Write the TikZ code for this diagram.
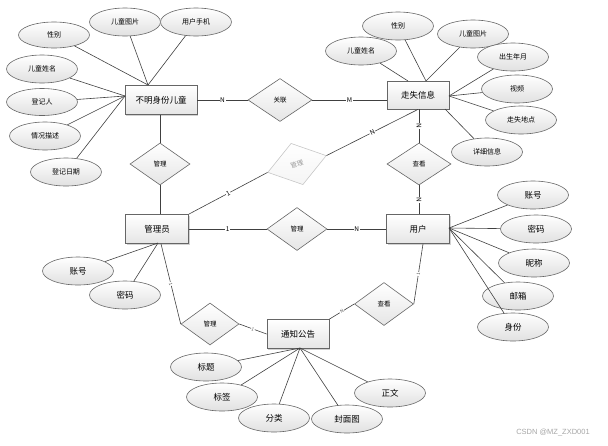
\documentclass[tikz,border=0pt]{standalone}
\usepackage{fontspec}
\setmainfont{Noto Sans CJK SC}
\newfontfamily\wmfont{Liberation Sans}
\usetikzlibrary{shapes.geometric,shadows}
\begin{document}
\begin{tikzpicture}[x=1pt,y=-1pt,
  ent/.style={rectangle, draw=black!60, line width=0.8pt, top color=white, bottom color=black!10,
    minimum width=62pt, minimum height=28pt, inner sep=0pt, font=\fontsize{8.5}{10}\selectfont,
    drop shadow={shadow xshift=1pt, shadow yshift=-1pt, fill=black!35, opacity=0.5}},
  attr/.style={ellipse, draw=black!60, line width=0.6pt, top color=white, bottom color=black!12,
    minimum width=71pt, minimum height=28pt, inner sep=0pt, font=\fontsize{7}{8}\selectfont},
  battr/.style={attr, font=\fontsize{8.5}{10}\selectfont},
  rel/.style={diamond, draw=black!60, line width=0.6pt, top color=white, bottom color=black!10,
    minimum width=60pt, minimum height=42pt, inner sep=0pt, font=\fontsize{6.5}{7}\selectfont},
  ln/.style={draw=black!75, line width=0.6pt},
  card/.style={fill=white, inner sep=0.6pt, font=\fontsize{6.5}{7}\selectfont, sloped},
  tcard/.style={card, font=\fontsize{4.5}{5}\selectfont, text=black!70},
]
\useasboundingbox (0,0) rectangle (608,445);

% entities
\node[ent, minimum width=72pt, minimum height=29pt] (kid) at (161,100) {不明身份儿童};
\node[ent] (lost) at (418,95) {走失信息};
\node[ent, minimum width=63pt, minimum height=29pt] (adm) at (157,229) {管理员};
\node[ent, minimum width=63pt, minimum height=29pt] (usr) at (418,229) {用户};
\node[ent, minimum height=29pt] (ntc) at (298,334) {通知公告};

% relations
\node[rel, minimum width=64pt, minimum height=43pt] (r1) at (280,100) {关联};
\node[rel] (r2) at (160,164) {管理};
\node[rel, draw=black!22, top color=white, bottom color=black!4, text=black!40, rotate=16,
  minimum width=61pt, minimum height=43pt] (r3) at (297,164) {管理};
\node[rel, minimum width=64pt] (r4) at (419,164) {查看};
\node[rel, minimum height=43pt] (r5) at (297,229) {管理};
\node[rel, minimum width=58pt] (r6) at (210,324) {管理};
\node[rel, minimum width=59pt, minimum height=43pt] (r7) at (384,304) {查看};

% attributes of kid
\node[attr, minimum height=26pt] (k1) at (54,35) {性别};
\node[attr] (k2) at (125,22) {儿童图片};
\node[attr] (k3) at (196,22) {用户手机};
\node[attr] (k4) at (42,69) {儿童姓名};
\node[attr, minimum height=27pt] (k5) at (42,102) {登记人};
\node[attr] (k6) at (45,136) {情况描述};
\node[attr] (k7) at (66,172) {登记日期};
\coordinate (kt) at (148,85);
\coordinate (kl) at (125,96);
\foreach \n in {k1,k2,k3} \draw[ln] (\n) -- (kt);
\foreach \n in {k4,k5,k6,k7} \draw[ln] (\n) -- (kl);

% attributes of lost
\node[attr] (l2) at (398,26) {性别};
\node[attr] (l1) at (361,51) {儿童姓名};
\node[attr] (l3) at (473,34) {儿童图片};
\node[attr] (l4) at (513,57) {出生年月};
\node[attr] (l5) at (517,89) {视频};
\node[attr] (l6) at (521,120) {走失地点};
\node[attr] (l7) at (487,152) {详细信息};
\coordinate (lt1) at (408,81);
\coordinate (lt2) at (426,81);
\coordinate (lr) at (449,96);
\coordinate (lb) at (445,109);
\draw[ln] (l1) -- (lt1);
\draw[ln] (l2) -- (lt2);
\draw[ln] (l3) -- (lt2);
\foreach \n in {l4,l5,l6} \draw[ln] (\n) -- (lr);
\draw[ln] (l7) -- (lb);

% attributes of user
\node[battr] (u1) at (533,195) {账号};
\node[battr] (u2) at (536,229) {密码};
\node[battr] (u3) at (534,263) {昵称};
\node[battr] (u4) at (518,296) {邮箱};
\node[battr] (u5) at (513,327) {身份};
\coordinate (ur) at (449,228);
\foreach \n in {u1,u2,u3,u4,u5} \draw[ln] (\n) -- (ur);

% attributes of admin
\node[battr] (a1) at (78,271) {账号};
\node[battr] (a2) at (125,295) {密码};
\coordinate (ab) at (158,243);
\draw[ln] (a1) -- (ab);
\draw[ln] (a2) -- (ab);

% attributes of notice
\node[battr] (n1) at (206,367) {标题};
\node[battr] (n2) at (222,397) {标签};
\node[battr] (n3) at (274,418) {分类};
\node[battr] (n4) at (347,419) {封面图};
\node[battr] (n5) at (390,393) {正文};
\coordinate (nb) at (300,348);
\foreach \n in {n1,n2,n3,n4,n5} \draw[ln] (\n) -- (nb);

% relationship connectors
\draw[ln] (kid.east) -- node[card]{N} (r1.west);
\draw[ln] (r1.east) -- node[card]{M} (r1.east -| lost.west);
\draw[ln] (r2.north |- kid.south) -- (r2.north);
\draw[ln] (r2.south) -- (r2.south |- adm.north);
\draw[ln] (adm.north east) -- node[card]{1} (r3.west);
\draw[ln] (r3.east) -- node[card]{N} (lost.south);
\draw[ln] (r4.north |- lost.south) -- node[card]{N} (r4.north);
\draw[ln] (r4.south) -- node[card]{N} (r4.south |- usr.north);
\draw[ln] (adm.east) -- node[card]{1} (r5.west);
\draw[ln] (r5.east) -- node[card]{N} (usr.west);
\draw[ln] ([xshift=4pt]adm.south) -- node[tcard]{1} (r6.west);
\draw[ln] (r6.east) -- node[tcard]{1} (ntc.west);
\draw[ln] ([xshift=5pt]usr.south) -- node[tcard]{1} (r7.east);
\draw[ln] (r7.west) -- node[tcard]{N} (ntc.north east);

% watermark
\node[font=\wmfont\fontsize{7.5}{8}\selectfont, text=black!35] (wmk) at (553,433) {CSDN @MZ\_ZXD001};
\end{tikzpicture}
\end{document}
